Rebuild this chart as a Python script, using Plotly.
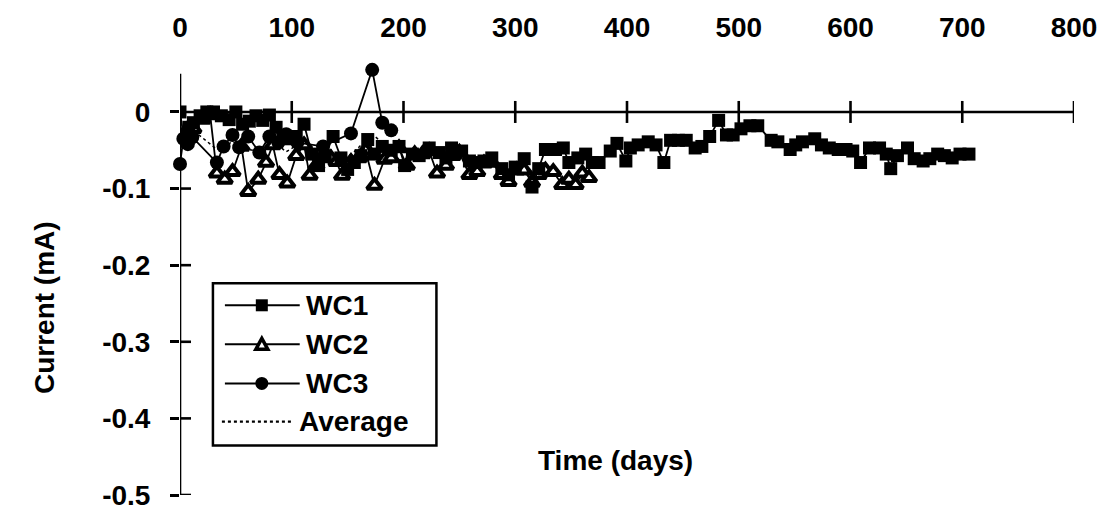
import plotly.graph_objects as go

# ---- data: current (mA) versus time (days) for three working cells ----
wc1_days = [0, 3, 8, 12, 18, 24, 30, 37, 44, 50, 56, 62, 68, 74, 80, 86, 92, 98,
            104, 111, 118, 124, 130, 137, 144, 150, 156, 162, 168, 174, 181, 189,
            196, 201, 208, 214, 223, 232, 238, 243, 252, 259, 265, 272, 279, 288,
            294, 300, 308, 315, 321, 327, 336, 343, 348, 356, 363, 369, 375, 385,
            391, 399, 403, 410, 419, 426, 433, 439, 446, 453, 461, 467, 474, 482,
            489, 495, 502, 510, 517, 529, 535, 546, 551, 557, 568, 574, 581, 589,
            596, 602, 609, 617, 626, 632, 636, 642, 651, 657, 665, 671, 678, 684,
            691, 698, 706]
wc1_current = [0.0, -0.03, -0.02, -0.014, -0.005, 0.0, 0.0, -0.005, -0.01, 0.0,
               -0.016, -0.012, -0.005, -0.011, -0.004, -0.02, -0.032, -0.035,
               -0.032, -0.016, -0.055, -0.07, -0.057, -0.032, -0.06, -0.075,
               -0.066, -0.057, -0.036, -0.055, -0.045, -0.05, -0.045, -0.07,
               -0.055, -0.057, -0.047, -0.053, -0.06, -0.047, -0.051, -0.064,
               -0.066, -0.064, -0.06, -0.074, -0.082, -0.072, -0.061, -0.098,
               -0.074, -0.049, -0.049, -0.047, -0.066, -0.06, -0.055, -0.066,
               -0.066, -0.051, -0.041, -0.064, -0.047, -0.043, -0.039, -0.043,
               -0.066, -0.037, -0.037, -0.037, -0.047, -0.045, -0.032, -0.011,
               -0.03, -0.03, -0.022, -0.018, -0.018, -0.037, -0.039, -0.049,
               -0.043, -0.039, -0.035, -0.043, -0.047, -0.049, -0.049, -0.051,
               -0.066, -0.047, -0.047, -0.055, -0.074, -0.057, -0.047, -0.061,
               -0.064, -0.061, -0.055, -0.057, -0.06, -0.055, -0.055]

wc2_days = [0, 6, 12, 20, 27, 33, 40, 47, 55, 61, 70, 77, 83, 89, 96, 104, 111,
            116, 122, 128, 135, 140, 145, 153, 160, 166, 174, 183, 189, 196, 203,
            210, 217, 223, 230, 238, 244, 250, 259, 266, 272, 279, 288, 294, 301,
            308, 315, 321, 327, 334, 342, 348, 354, 360, 366]
wc2_current = [-0.04, -0.024, -0.022, -0.01, -0.004, -0.08, -0.088, -0.078,
               -0.045, -0.104, -0.088, -0.066, -0.043, -0.082, -0.093, -0.057,
               -0.043, -0.083, -0.07, -0.057, -0.06, -0.065, -0.083, -0.065,
               -0.06, -0.05, -0.096, -0.062, -0.06, -0.047, -0.07, -0.055, -0.055,
               -0.051, -0.08, -0.07, -0.057, -0.053, -0.082, -0.078, -0.067,
               -0.066, -0.082, -0.091, -0.076, -0.076, -0.092, -0.082, -0.076,
               -0.078, -0.095, -0.088, -0.095, -0.08, -0.086]

wc3_days = [0, 3, 7, 11, 33, 39, 47, 53, 61, 71, 80, 88, 95, 105, 128, 153, 172,
            181, 189]
wc3_current = [-0.068, -0.035, -0.042, -0.033, -0.066, -0.045, -0.03, -0.046,
               -0.032, -0.053, -0.032, -0.04, -0.029, -0.04, -0.045, -0.028,
               0.055, -0.014, -0.024]

avg_days = [0, 11, 33, 47, 61, 71, 80, 95, 105, 128, 153, 172, 181, 189]
avg_current = [-0.036, -0.023, -0.049, -0.039, -0.049, -0.051, -0.034, -0.052,
               -0.043, -0.053, -0.056, -0.029, -0.040, -0.045]

x_ticks = [0, 100, 200, 300, 400, 500, 600, 700, 800]
y_ticks = [0, -0.1, -0.2, -0.3, -0.4, -0.5]
y_tick_text = ["0", "-0.1", "-0.2", "-0.3", "-0.4", "-0.5"]
Y_MIN, Y_MAX, Y_LINE_TOP = -0.5, 0.06, 0.05

# ---- page geometry ----
W, H = 1109, 523
ML, MR, MT, MB = 180, 33, 55, 18
PW, PH = W - ML - MR, H - MT - MB
FONT = "Liberation Sans, Arial, sans-serif"
INK = "#000000"


def fx(px):
    return (px - ML) / PW


def fy(py):
    return (H - MB - py) / PH


fig = go.Figure()

fig.add_trace(go.Scatter(
    x=avg_days, y=avg_current, mode="lines", name="Average",
    line=dict(color=INK, width=1.5, dash="dot"), showlegend=False))
fig.add_trace(go.Scatter(
    x=wc2_days, y=wc2_current, mode="lines+markers", name="WC2",
    line=dict(color=INK, width=1.8),
    marker=dict(symbol="triangle-up", size=13, color="white",
                line=dict(color=INK, width=4)),
    showlegend=False))
fig.add_trace(go.Scatter(
    x=wc1_days, y=wc1_current, mode="lines+markers", name="WC1",
    line=dict(color=INK, width=1.8),
    marker=dict(symbol="square", size=13, color=INK, line=dict(width=0)),
    showlegend=False))
fig.add_trace(go.Scatter(
    x=wc3_days, y=wc3_current, mode="lines+markers", name="WC3",
    line=dict(color=INK, width=1.8), cliponaxis=False,
    marker=dict(symbol="circle", size=14, color=INK, line=dict(width=0)),
    showlegend=False))

shapes = []
# vertical axis line, stopping a little above zero
shapes.append(dict(type="line", xref="x", yref="y", x0=0, x1=0,
                   y0=Y_MIN, y1=Y_LINE_TOP,
                   line=dict(color=INK, width=2.6), layer="below"))
# horizontal axis drawn through y = 0 with crossing tick marks
shapes.append(dict(type="line", xref="x", yref="y", x0=0, x1=800, y0=0, y1=0,
                   line=dict(color=INK, width=2.6), layer="below"))
for t in x_ticks[1:]:
    shapes.append(dict(type="line", xref="x", yref="y", x0=t, x1=t,
                       ysizemode="pixel", yanchor=0, y0=-11, y1=11,
                       line=dict(color=INK, width=2.6), layer="below"))
# inner half of the crossing ticks on the vertical axis
for t in y_ticks[1:]:
    shapes.append(dict(type="line", xref="x", yref="y", xsizemode="pixel",
                       xanchor=0, x0=0, x1=11, y0=t, y1=t,
                       line=dict(color=INK, width=2.6), layer="below"))

# legend box
LX0, LX1, LY0, LY1 = 213, 437, 283, 453
shapes.append(dict(type="rect", xref="paper", yref="paper",
                   x0=fx(LX0), x1=fx(LX1), y0=fy(LY1), y1=fy(LY0),
                   line=dict(color=INK, width=2.5), fillcolor="white", layer="above"))
rows = [("WC1", 306, "square"), ("WC2", 347, "triangle"),
        ("WC3", 388, "circle"), ("Average", 428, "dot")]
annotations = []
for label, ry, kind in rows:
    if kind == "dot":
        shapes.append(dict(type="line", xref="paper", yref="paper",
                           x0=fx(222), x1=fx(292), y0=fy(ry), y1=fy(ry),
                           line=dict(color=INK, width=2.2, dash="dot")))
        tx = 297
    else:
        shapes.append(dict(type="line", xref="paper", yref="paper",
                           x0=fx(225), x1=fx(300), y0=fy(ry), y1=fy(ry),
                           line=dict(color=INK, width=2)))
        tx = 304
        cx, cy = fx(262), fy(ry)
        if kind == "square":
            shapes.append(dict(type="rect", xref="paper", yref="paper",
                               xsizemode="pixel", ysizemode="pixel",
                               xanchor=cx, yanchor=cy, x0=-6, x1=6, y0=-6, y1=6,
                               fillcolor=INK, line=dict(width=0)))
        elif kind == "circle":
            shapes.append(dict(type="circle", xref="paper", yref="paper",
                               xsizemode="pixel", ysizemode="pixel",
                               xanchor=cx, yanchor=cy, x0=-6.5, x1=6.5, y0=-6.5, y1=6.5,
                               fillcolor=INK, line=dict(width=0)))
        else:
            shapes.append(dict(type="path", xref="paper", yref="paper",
                               xsizemode="pixel", ysizemode="pixel",
                               xanchor=cx, yanchor=cy,
                               path="M -6 -5 L 6 -5 L 0 6 Z",
                               fillcolor="white", line=dict(color=INK, width=3.5)))
    annotations.append(dict(x=fx(tx), y=fy(ry), xref="paper", yref="paper",
                            text=label, showarrow=False, xanchor="left",
                            yanchor="middle",
                            font=dict(family=FONT, size=28, color=INK, weight="bold")))

annotations.append(dict(x=fx(537), y=fy(487), xref="paper", yref="paper",
                        text="Time (days)", showarrow=False, xanchor="left",
                        font=dict(family=FONT, size=28, color=INK, weight="bold")))
annotations.append(dict(x=fx(26), y=fy(308), xref="paper", yref="paper",
                        text="Current (mA)", showarrow=False, textangle=-90,
                        font=dict(family=FONT, size=28, color=INK, weight="bold")))

fig.update_layout(
    width=W, height=H,
    margin=dict(l=ML, r=MR, t=MT, b=MB, pad=0),
    paper_bgcolor="white", plot_bgcolor="white",
    showlegend=False,
    xaxis=dict(range=[0, 800], side="top", tickvals=x_ticks,
               showline=False, showgrid=False, zeroline=False, ticks="",
               ticklabelstandoff=22,
               tickfont=dict(family=FONT, size=28, color=INK, weight="bold")),
    yaxis=dict(range=[Y_MIN, Y_MAX], tickvals=y_ticks, ticktext=y_tick_text,
               showline=False,
               ticks="outside", ticklen=9, tickwidth=2.6, tickcolor=INK,
               showgrid=False, zeroline=False, ticklabelstandoff=14,
               tickfont=dict(family=FONT, size=28, color=INK, weight="bold")),
    shapes=shapes, annotations=annotations,
)

fig.write_html("out.html")
